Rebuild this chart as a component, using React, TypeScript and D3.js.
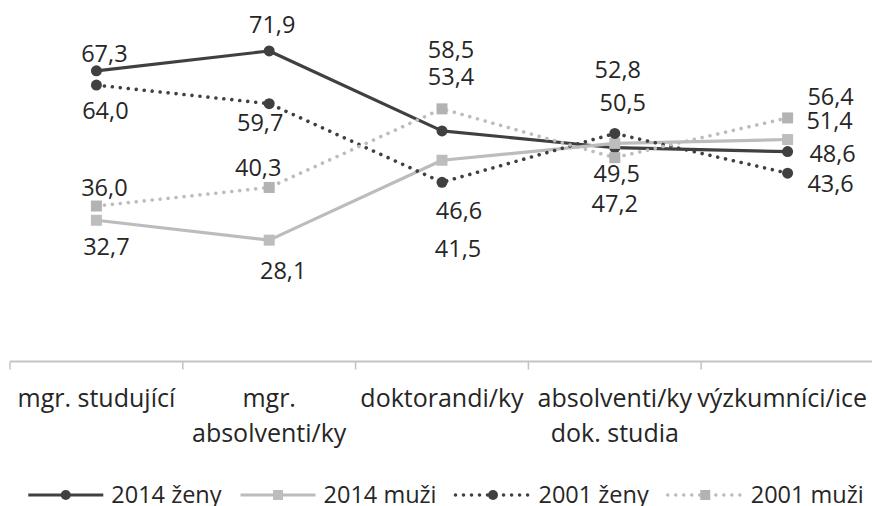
import React, { useMemo } from "react";
import * as d3 from "d3";

const categories = ["mgr. studující", "mgr. absolventi/ky", "doktorandi/ky", "absolventi/ky dok. studia", "výzkumníci/ice"];
const categoryLines = [["mgr. studující"], ["mgr.", "absolventi/ky"], ["doktorandi/ky"], ["absolventi/ky", "dok. studia"], ["výzkumníci/ice"]];
const seriesNames = ["2014 ženy", "2014 muži", "2001 ženy", "2001 muži"];
const zeny2014 = [67.3, 71.9, 53.4, 49.5, 48.6];
const muzi2014 = [32.7, 28.1, 46.6, 50.5, 51.4];
const zeny2001 = [64.0, 59.7, 41.5, 52.8, 43.6];
const muzi2001 = [36.0, 40.3, 58.5, 47.2, 56.4];
const yDomain = [0, 80];

// label placement offsets (pixels, relative to the point) — style only
const labelOffsets = [
  [[8, -17], [3, -26], [9, -54], [2, 26], [45, 2]],
  [[10, 26], [14, 30], [17, 50], [8, -41], [42, -19]],
  [[9, 25], [-9, 19], [16, 66], [3, -64], [43, 10]],
  [[8, -18], [-11, -20], [9, -59], [0, 46], [43, -21]],
];

const DARK = "#404040";
const LIGHT = "#bcbcbc";
const styles = [
  { color: DARK, dash: null, marker: "circle", markerFill: "#404040" },
  { color: LIGHT, dash: null, marker: "square", markerFill: "#bdbdbd" },
  { color: DARK, dash: "0.01 8", marker: "circle", markerFill: "#404040" },
  { color: LIGHT, dash: "0.01 8", marker: "square", markerFill: "#b3b3b3" },
];

const W = 872;
const H = 506;
const FONT = "'Open Sans', sans-serif";
const FS = 23.5;
const FS_AXIS = 25;
const FS_LEGEND = 23.5;
const TEXT = "#262626";

function fmt(v: number) {
  return d3.format(".1f")(v).replace(".", ",");
}

function measure(text: string, size: number) {
  const c = document.createElement("canvas");
  const ctx = c.getContext("2d");
  if (!ctx) return text.length * 11;
  ctx.font = `${size}px 'Open Sans'`;
  return ctx.measureText(text).width;
}

function Marker({ type, x, y, fill, size }: any) {
  if (type === "circle") return <circle cx={x} cy={y} r={size / 2} fill={fill} />;
  return <rect x={x - size / 2} y={y - size / 2} width={size} height={size} fill={fill} />;
}

export default function App() {
  const data = [zeny2014, muzi2014, zeny2001, muzi2001];
  const x = d3.scaleBand<string>().domain(categories).range([10, 874]).padding(0);
  const y = d3.scaleLinear().domain(yDomain).range([361.5, 16]);
  const cx = (c: string) => (x(c) as number) + x.bandwidth() / 2;
  const line = d3
    .line<number>()
    .x((_, i) => cx(categories[i]))
    .y((d) => y(d));

  const legend = useMemo(() => {
    const symW = 75;
    const gap = 8;
    const itemGap = 19;
    const widths = seriesNames.map((n) => measure(n, FS_LEGEND));
    const total = widths.reduce((a, b) => a + b, 0) + seriesNames.length * (symW + gap) + (seriesNames.length - 1) * itemGap;
    let cur = 446 - total / 2;
    return seriesNames.map((n, i) => {
      const item = { name: n, x: cur, symW, textX: cur + symW + gap };
      cur += symW + gap + widths[i] + itemGap;
      return item;
    });
  }, []);

  const catPos = useMemo(
    () =>
      categoryLines.map((lines, i) => {
        const c = cx(categories[i]);
        const w = Math.max(...lines.map((l) => measure(l, FS_AXIS)));
        const shift = Math.min(0, 867 - (c + w / 2));
        return c + shift;
      }),
    []
  );

  const axisY = y(0);
  const ticks = [...categories.map((c) => x(c) as number), 874];

  return (
    <svg width={W} height={H} style={{ position: "absolute", left: 0, top: 0, background: "#fff" }} fontFamily={FONT}>
      <rect width={W} height={H} fill="#fff" />
      {/* axis */}
      <line x1={10} x2={874} y1={axisY} y2={axisY} stroke="#c4c4c4" strokeWidth={1.8} />
      {ticks.map((t, i) => (
        <line key={i} x1={t} x2={t} y1={axisY} y2={axisY + 8} stroke="#c4c4c4" strokeWidth={1.5} />
      ))}
      {categoryLines.map((lines, i) => (
        <text key={i} x={catPos[i]} y={407} textAnchor="middle" fontSize={FS_AXIS} fill={TEXT}>
          {lines.map((l, j) => (
            <tspan key={j} x={catPos[i]} y={407 + j * 35}>
              {l}
            </tspan>
          ))}
        </text>
      ))}
      {/* series */}
      {data.map((vals, s) => (
        <g key={s}>
          <path
            d={line(vals) as string}
            fill="none"
            stroke={styles[s].color}
            strokeWidth={styles[s].dash ? 3.6 : 3.2}
            strokeDasharray={styles[s].dash || undefined}
            strokeLinecap={styles[s].dash ? "round" : "butt"}
            strokeLinejoin="round"
          />
          {vals.map((v, i) => (
            <Marker key={i} type={styles[s].marker} x={cx(categories[i])} y={y(v)} fill={styles[s].markerFill} size={11} />
          ))}
        </g>
      ))}
      {data.map((vals, s) =>
        vals.map((v, i) => (
          <text
            key={`${s}-${i}`}
            x={cx(categories[i]) + labelOffsets[s][i][0]}
            y={y(v) + labelOffsets[s][i][1]}
            dy="0.36em"
            textAnchor="middle"
            fontSize={FS}
            fill={TEXT}
          >
            {fmt(v)}
          </text>
        ))
      )}
      {/* legend */}
      {legend.map((it, i) => (
        <g key={i}>
          <line
            x1={it.x}
            x2={it.x + it.symW}
            y1={495}
            y2={495}
            stroke={styles[i].color}
            strokeWidth={styles[i].dash ? 3.6 : 3.2}
            strokeDasharray={styles[i].dash || undefined}
            strokeLinecap={styles[i].dash ? "round" : "butt"}
          />
          <Marker type={styles[i].marker} x={it.x + it.symW / 2} y={495} fill={styles[i].markerFill} size={10} />
          <text x={it.textX} y={503} fontSize={FS_LEGEND} fill={TEXT}>
            {it.name}
          </text>
        </g>
      ))}
    </svg>
  );
}
